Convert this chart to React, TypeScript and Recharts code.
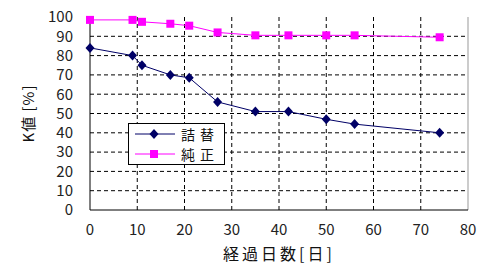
import { LineChart, Line, XAxis, YAxis, CartesianGrid, ReferenceLine } from 'recharts';

const days = [0, 9, 11, 17, 21, 27, 35, 42, 50, 56, 74];
const refill = [84, 80, 75, 70, 68.5, 56, 51, 51, 47, 44.5, 40];
const genuine = [98.5, 98.5, 97.5, 96.5, 95.5, 92, 90.5, 90.5, 90.5, 90.5, 89.5];
const seriesNames = ['詰替', '純正'];
const xTicks = [0, 10, 20, 30, 40, 50, 60, 70, 80];
const yTicks = [0, 10, 20, 30, 40, 50, 60, 70, 80, 90, 100];

const data = days.map((d, i) => ({ day: d, refill: refill[i], genuine: genuine[i] }));

const FONT = '"Noto Sans CJK JP", "Noto Sans", sans-serif';

const Diamond = (props: any) => {
  const { cx, cy } = props;
  if (cx == null || cy == null) return null;
  return <polygon points={`${cx},${cy - 5} ${cx + 4.5},${cy} ${cx},${cy + 5} ${cx - 4.5},${cy}`} fill="#000066" />;
};

const Square = (props: any) => {
  const { cx, cy } = props;
  if (cx == null || cy == null) return null;
  return <rect x={cx - 4} y={cy - 4} width={8} height={8} fill="#ff00ff" />;
};

const LegendBox = () => (
  <div
    style={{
      position: 'absolute',
      left: 128,
      top: 123,
      width: 97,
      height: 42,
      border: '1px solid #000',
      background: '#fff',
      boxSizing: 'border-box',
      fontFamily: FONT,
      fontSize: 14,
      color: '#111',
    }}
  >
    {seriesNames.map((name, i) => (
      <div key={name} style={{ display: 'flex', alignItems: 'center', height: 20 }}>
        <svg width={52} height={20}>
          <line x1={6} x2={46} y1={10} y2={10} stroke={i === 0 ? '#000066' : '#ff00ff'} strokeWidth={1} />
          {i === 0 ? <Diamond cx={25} cy={10} /> : <Square cx={25} cy={10} />}
        </svg>
        <span style={{ letterSpacing: 5, lineHeight: '20px' }}>{name}</span>
      </div>
    ))}
  </div>
);

const App = () => {
  return (
    <div style={{ position: 'absolute', left: 0, top: 0, width: 480, height: 269, background: '#fff' }}>
      <LineChart width={480} height={269} data={data} margin={{ top: 17, right: 12, left: 0, bottom: 0 }}>
        <CartesianGrid
          stroke="#000"
          strokeDasharray="4 3"
          horizontalValues={[10, 20, 30, 40, 50, 60, 70, 80, 90]}
          verticalValues={[10, 20, 30, 40, 50, 60, 70]}
        />
        <ReferenceLine x={80} stroke="#999" strokeWidth={1} />
        <XAxis
          dataKey="day"
          type="number"
          domain={[0, 80]}
          ticks={xTicks}
          interval={0}
          tickLine={false}
          tickSize={0}
          tickMargin={14}
          axisLine={{ stroke: '#000' }}
          height={59}
          tick={{ fontFamily: FONT, fontSize: 15, fill: '#222' }}
          label={{
            value: '経過日数[日]',
            position: 'insideBottom',
            offset: 9,
            style: { fontFamily: FONT, fontSize: 16, fill: '#111', letterSpacing: 3 },
          }}
        />
        <YAxis
          type="number"
          domain={[0, 100]}
          ticks={yTicks}
          interval={0}
          tickLine={false}
          tickSize={0}
          tickMargin={17}
          axisLine={{ stroke: '#000' }}
          width={90}
          tick={{ fontFamily: FONT, fontSize: 15, fill: '#222' }}
          label={{
            value: 'K値 [%]',
            angle: -90,
            position: 'insideLeft',
            offset: 29,
            style: { fontFamily: FONT, fontSize: 15, fill: '#111', textAnchor: 'middle', letterSpacing: 1 },
          }}
        />
        <Line
          name={seriesNames[0]}
          dataKey="refill"
          stroke="#000066"
          strokeWidth={1}
          dot={<Diamond />}
          activeDot={false}
          isAnimationActive={false}
        />
        <Line
          name={seriesNames[1]}
          dataKey="genuine"
          stroke="#ff00ff"
          strokeWidth={1}
          dot={<Square />}
          activeDot={false}
          isAnimationActive={false}
        />
      </LineChart>
      <LegendBox />
    </div>
  );
};

export default App;
